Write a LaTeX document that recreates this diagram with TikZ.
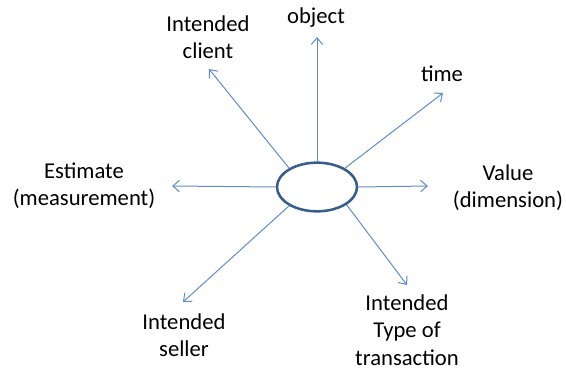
\documentclass[tikz,border=0pt]{standalone}
\usepackage{fontspec}
\setmainfont{Carlito}
\usetikzlibrary{arrows.meta,shapes.geometric}

\definecolor{lineBlue}{RGB}{95,140,200}
\definecolor{rimBlue}{RGB}{56,93,138}

\tikzset{every picture/.style={line width=0.75pt}}
\tikzset{
  spoke/.style={draw=lineBlue,line width=0.75pt,-{Straight Barb[length=5pt,width=8.5pt]}},
  label/.style={align=center,inner sep=0.75pt,font=\fontsize{17}{20.5}\selectfont}
}

\begin{document}
\begin{tikzpicture}[x=0.75pt,y=0.75pt,yscale=-1,xscale=1]
\useasboundingbox (0,0) rectangle (566,367);

%Shape: Ellipse [id:hub]
\node [ellipse,draw=rimBlue,line width=1.9pt,minimum width=60pt,minimum height=36.5pt,inner sep=0pt] (hub) at (317,187) {};

%Tips of the spokes
\coordinate (tipObject) at (317,37);
\coordinate (tipClient) at (209,69);
\coordinate (tipTime) at (443,93);
\coordinate (tipValue) at (428,186);
\coordinate (tipEstimate) at (172,186);
\coordinate (tipSeller) at (183,302);
\coordinate (tipType) at (407,285);

%Straight Lines
\draw [spoke] (hub.north) -- (tipObject);
\draw [spoke] (hub.146) -- (tipClient);
\draw [spoke] (hub.34) -- (tipTime);
\draw [spoke] (hub.east) -- (tipValue);
\draw [spoke] (hub.west) -- (tipEstimate);
\draw [spoke] (hub.214) -- (tipSeller);
\draw [spoke] (hub.329) -- (tipType);

% Text Node
\node [label] (object) at (316,18) {object};
% Text Node
\node [label] (client) at (208,37) {Intended\\client};
% Text Node
\node [label] (time) at (442,74) {time};
% Text Node
\node [label] (value) at (508,188) {Value\\(dimension)};
% Text Node
\node [label] (estimate) at (84,186) {Estimate\\(measurement)};
% Text Node
\node [label] (seller) at (184,335) {Intended\\seller};
% Text Node
\node [label] (type) at (407,330) {Intended\\Type of\\transaction};

\end{tikzpicture}
\end{document}
